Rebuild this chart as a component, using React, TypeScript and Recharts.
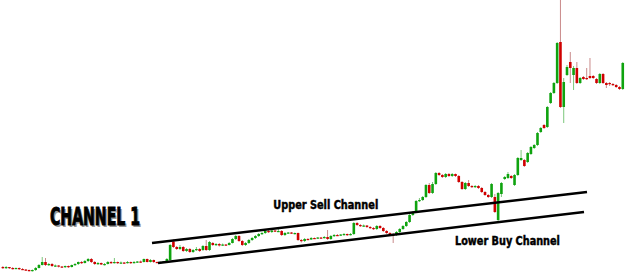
import React from 'react';
import { ComposedChart, Bar, XAxis, YAxis, ReferenceLine, ReferenceDot } from 'recharts';

// Candle prices (o/h/l/c), one entry per session
const opens = [
  8, 7, 8, 7, 6.5, 7, 6, 5.5, 5, 4.5,
  5, 7, 10, 13, 10, 11, 9, 9.5, 8.5, 8,
  9, 8, 10, 11, 13, 12, 14, 16, 13, 11,
  12, 10.5, 11, 13, 12, 13, 12, 12.5, 12, 13,
  12, 13, 13.5, 13, 16, 13, 15, 13, 12.5, 13,
  13.5, 15, 33.5, 28, 26, 28, 24, 26, 23, 25,
  26, 25, 29, 25, 32, 30, 31, 29.5, 30.5, 30,
  32, 36, 39, 34, 30, 32, 35, 37, 39, 41,
  42, 44, 43, 44.5, 43.5, 44, 40, 42, 42.5, 41.5,
  42, 35, 34, 36, 35.5, 37, 36.5, 37.5, 37, 38,
  36, 39, 40, 39.5, 40, 41, 40, 41, 52, 50,
  49, 49.5, 48, 47, 46, 49, 47, 44, 42, 41,
  40, 43, 46, 49, 53, 60, 63, 74, 75, 78,
  90, 82, 91, 102, 100, 98, 101, 99, 101, 99,
  93, 86, 92, 89, 88, 89, 87, 83, 80, 78,
  78, 55, 81, 96, 97, 99, 90, 100, 115, 115,
  113, 121, 127, 130, 143, 150, 148, 172, 182, 192,
  233, 168, 200, 213, 200, 207, 192, 198, 197, 199,
  199, 196, 192, 201, 192, 192, 191, 190, 188, 186,
];
const highs = [
  9, 9, 8, 8, 7.5, 7.5, 7, 6, 5.5, 5.5,
  8, 11, 18, 17, 12, 12, 10.5, 10, 9, 9.5,
  9.5, 10.5, 12, 13.5, 14, 15, 17, 17, 14, 13,
  12.5, 12, 14, 14, 17, 13.5, 13.5, 13, 14, 13.5,
  14, 14, 14.5, 16.5, 16.5, 16, 15.5, 13.5, 13.5, 14,
  17, 31, 35.5, 29, 30, 29, 27, 27, 26, 28,
  27, 30, 35, 34, 33, 32, 32, 31.5, 31, 33,
  37, 40, 40, 35, 33, 36, 38, 40, 42, 43,
  45, 45, 45, 45, 46, 45, 43, 43, 43, 42.5,
  42.5, 36, 37, 37, 38, 37.5, 38, 38, 39, 45,
  40, 41, 41, 41, 42, 41.5, 42, 53, 53, 51,
  50.5, 50, 49, 48, 50, 50, 48, 45, 43, 42,
  44, 47, 50, 54, 61, 64, 75, 77, 79, 91,
  92, 93, 103, 103, 101, 102, 102, 102, 101.5, 100,
  94, 93, 95, 90, 90, 90, 88, 84, 81, 92,
  81, 83, 93, 99, 103, 100, 101, 118, 125, 116,
  123, 129, 131, 143, 148, 151, 169, 183, 193, 233,
  275, 197, 210, 223, 209, 213, 198, 199, 207, 217,
  200, 197, 202, 202, 193, 193, 192, 191, 189, 213,
];
const lows = [
  6, 6, 6, 5.5, 6, 5, 5, 4, 3.5, 3.5,
  4, 6.5, 9.5, 9, 9, 8, 8, 7.5, 7, 7,
  7, 7.5, 9, 10, 11, 11.5, 13, 12, 10, 10,
  10, 9.5, 10.5, 11, 11.5, 11, 11, 11, 11.5, 11,
  11.5, 12, 12, 12.5, 12.5, 12.5, 12, 12, 12, 12.5,
  13, 14.5, 27, 25, 25, 23, 23, 22, 22, 24,
  23, 24, 24, 24, 29, 29, 28.5, 29, 29, 29.5,
  31.5, 35, 33, 29, 29, 31, 34, 36, 38, 40,
  41, 42, 42, 43, 43, 39, 39, 41, 41, 40.5,
  34, 32.5, 33, 35, 35, 36, 36, 36, 36.5, 35,
  35, 38, 39, 39, 39.5, 39, 39.5, 40, 49, 48,
  48, 47, 46, 45, 45, 46, 43, 41, 40, 32,
  39, 42, 45, 48, 52, 59, 62, 73, 74, 77,
  81, 81, 90, 99, 97, 97, 98, 98, 98, 92,
  85, 85, 88, 87, 87, 86, 82, 79, 77, 77,
  62, 54, 78, 95, 96, 96, 89, 99, 114, 108,
  112, 120, 126, 129, 142, 146, 147, 171, 181, 191,
  167, 152, 199, 192, 185, 191, 191, 195, 195, 196,
  196, 191, 191, 191, 187, 189, 189, 187, 185, 185,
];
const closes = [
  7, 8, 7, 6.5, 7, 6, 5.5, 5, 4.5, 5,
  7, 10, 13, 10, 11, 9, 9.5, 8.5, 8, 9,
  8, 10, 11, 13, 12, 14, 16, 13, 11, 12,
  10.5, 11, 13, 12, 13, 12, 12.5, 12, 13, 12,
  13, 13.5, 13, 16, 13, 15, 13, 12.5, 13, 13.5,
  16, 30, 28, 26, 28, 24, 26, 23, 25, 26,
  24, 29, 25, 33, 30, 31, 29.5, 30.5, 30, 32,
  36, 39, 34, 30, 32, 35, 37, 39, 41, 42,
  44, 43, 44.5, 43.5, 44, 40, 42, 42.5, 41.5, 42,
  35, 34, 36, 35.5, 37, 36.5, 37.5, 37, 38, 36,
  39, 40, 39.5, 40.5, 41, 40, 41, 52, 50, 49,
  49.5, 48, 47, 46, 49, 47, 44, 42, 41, 40,
  43, 46, 49, 53, 60, 63, 74, 75, 78, 90,
  82, 91, 102, 100, 98, 101, 99, 101, 99, 93,
  86, 92, 89, 88, 89, 87, 83, 80, 78, 91,
  63, 82, 92, 98, 101, 97, 100, 117, 117, 109,
  122, 128, 130, 142, 147, 147, 168, 182, 192, 232,
  168, 193, 208, 207, 207, 192, 197, 196, 196, 197,
  197, 192, 201, 192, 190, 191, 190, 188, 186, 212,
];

// Channel lines (session index, price)
const upperSellChannel = [{ x: 45.43, y: 32 }, { x: 178.05, y: 83 }];
const lowerBuyChannel = [{ x: 47.26, y: 12 }, { x: 177.13, y: 63 }];

// Annotations (session index, price at text baseline)
const annotations = [
  { text: 'CHANNEL 1', x: 28.05, y: 50, size: 24, len: 90, shadow: true },
  { text: 'Upper Sell Channel', x: 98.4, y: 65.7, size: 12.5, len: 105, shadow: false },
  { text: 'Lower Buy Channel', x: 153.8, y: 30, size: 12.5, len: 105, shadow: false },
];

const xDomain = [-0.915, 194.21];
const yDomain = [0, 275];

const GREEN = '#0fa30f';
const RED = '#d00000';
const GREEN_WICK = '#7cc77c';
const RED_WICK = '#c98a8a';

const data = opens.map((o, i) => ({
  i,
  o,
  h: highs[i],
  l: lows[i],
  c: closes[i],
  range: [lows[i], highs[i]],
}));

const Candle = (props: any) => {
  const { x, y, width, height, payload } = props;
  if (!payload || !isFinite(y) || !isFinite(height)) return null;
  const { o, h, l, c } = payload;
  const ratio = height / (h - l);
  const py = (v: number) => y + (h - v) * ratio;
  const cx = x + width / 2;
  const up = c >= o;
  const top = py(Math.max(o, c));
  const bot = py(Math.min(o, c));
  return (
    <g>
      <line x1={cx} x2={cx} y1={y} y2={y + height} stroke={up ? GREEN_WICK : RED_WICK} strokeWidth={1} />
      <rect x={cx - 1.3} y={top} width={2.6} height={Math.max(bot - top, 1.2)} fill={up ? GREEN : RED} />
    </g>
  );
};

const FONT = "'Liberation Sans Narrow', 'DejaVu Sans Condensed', 'Roboto Condensed', Arial, sans-serif";

const makeLabel = (a: any) => (props: any) => {
  const vb = props.viewBox || {};
  const x = (vb.x ?? 0) + (vb.width ?? 0) / 2;
  const y = (vb.y ?? 0) + (vb.height ?? 0) / 2;
  const common = {
    textAnchor: 'middle' as const,
    fontFamily: FONT,
    fontWeight: 700,
    fontSize: a.size,
    textLength: a.len,
    lengthAdjust: 'spacingAndGlyphs',
  };
  return (
    <g>
      {a.shadow && (
        <text x={x + 1.5} y={y + 1.5} {...common} fill="#9a9a9a">
          {a.text}
        </text>
      )}
      <text x={x} y={y} {...common} fill="#000" stroke="#000" strokeWidth={a.size > 20 ? 0.9 : 0.45}>
        {a.text}
      </text>
    </g>
  );
};

export default function App() {
  return (
    <div style={{ position: 'absolute', left: 0, top: 0, width: 640, height: 275, background: '#fff' }}>
      <ComposedChart width={640} height={275} data={data} margin={{ top: 0, right: 0, bottom: 0, left: 0 }}>
        <XAxis type="number" dataKey="i" domain={xDomain} hide allowDataOverflow />
        <YAxis type="number" domain={yDomain} hide allowDataOverflow />
        <Bar dataKey="range" barSize={3} shape={Candle} isAnimationActive={false} />
        <ReferenceLine segment={upperSellChannel} stroke="#000" strokeWidth={2.5} ifOverflow="visible" />
        <ReferenceLine segment={lowerBuyChannel} stroke="#000" strokeWidth={2.5} ifOverflow="visible" />
        {annotations.map((a) => (
          <ReferenceDot
            key={a.text}
            x={a.x}
            y={a.y}
            r={1}
            fill="none"
            stroke="none"
            ifOverflow="visible"
            label={{ content: makeLabel(a) } as any}
          />
        ))}
      </ComposedChart>
    </div>
  );
}
